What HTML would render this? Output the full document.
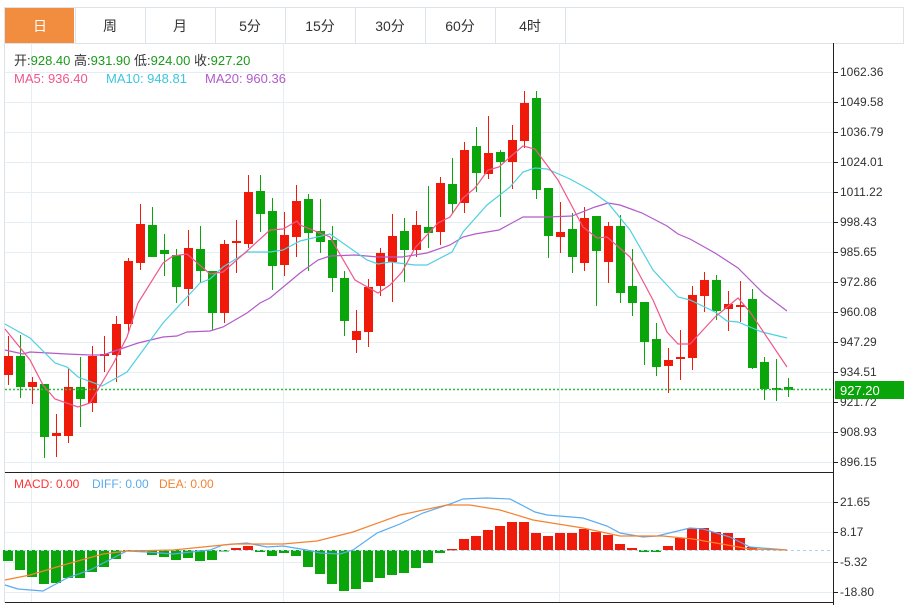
<!DOCTYPE html>
<html><head><meta charset="utf-8">
<style>
html,body{margin:0;padding:0;background:#fff;}
body{width:904px;height:605px;overflow:hidden;font-family:"Liberation Sans","Noto Sans CJK SC",sans-serif;}
svg{display:block}
</style></head>
<body>
<svg id="s" width="904" height="605" xmlns="http://www.w3.org/2000/svg" font-family="Liberation Sans, Noto Sans CJK SC, sans-serif">
</svg>
<script>
const S=document.getElementById('s');let h='';
h+='<rect x="4.5" y="7.5" width="899" height="36" fill="#fff" stroke="#dde3e8"/>';
const tabs=['日','周','月','5分','15分','30分','60分','4时'];
tabs.forEach((t,i)=>{const x=5+i*70;
 if(i==0)h+='<rect x="5" y="8" width="69" height="35" fill="#f28c3f"/>';
 h+='<line x1="'+(x+70.5)+'" y1="8" x2="'+(x+70.5)+'" y2="43" stroke="#dde3e8"/>';
 h+='<text x="'+(x+35)+'" y="31" font-size="14" text-anchor="middle" fill="'+(i==0?'#fff':'#333')+'">'+t+'</text>';});
h+='<line x1="4.5" y1="43" x2="4.5" y2="603" stroke="#dde3e8"/>';
for(let k=0;k<14;k++){const y=72+k*30+0.5;h+='<line x1="5" y1="'+y+'" x2="833" y2="'+y+'" stroke="#e6edf3"/>';}
[31,283,559].forEach(x=>{h+='<line x1="'+(x+.5)+'" y1="43" x2="'+(x+.5)+'" y2="603" stroke="#e6edf3"/>';});
[502,532,562,592].forEach(y=>{h+='<line x1="5" y1="'+(y+.5)+'" x2="833" y2="'+(y+.5)+'" stroke="#e6edf3"/>';});
h+='<line x1="5" y1="472.5" x2="833" y2="472.5" stroke="#222"/>';
h+='<line x1="5" y1="602.5" x2="833" y2="602.5" stroke="#222"/>';
h+='<line x1="833.5" y1="43" x2="833.5" y2="605" stroke="#222"/>';
const pl=['1062.36','1049.58','1036.79','1024.01','1011.22','998.43','985.65','972.86','960.08','947.29','934.51','921.72','908.93','896.15'];
pl.forEach((t,k)=>{const y=72+k*30;h+='<line x1="833" y1="'+(y+.5)+'" x2="838" y2="'+(y+.5)+'" stroke="#222"/><text x="840" y="'+(y+4)+'" font-size="12" fill="#333">'+t+'</text>';});
[['21.65',502],['8.17',532],['-5.32',562],['-18.80',592]].forEach(a=>{h+='<line x1="833" y1="'+(a[1]+.5)+'" x2="838" y2="'+(a[1]+.5)+'" stroke="#222"/><text x="840" y="'+(a[1]+4)+'" font-size="12" fill="#333">'+a[0]+'</text>';});
h+='<text x="14" y="65" font-size="13" fill="#333">开:<tspan fill="#1a9a1a">928.40</tspan>  高:<tspan fill="#1a9a1a">931.90</tspan>  低:<tspan fill="#1a9a1a">924.00</tspan>  收:<tspan fill="#1a9a1a">927.20</tspan></text>';
h+='<text x="14" y="83" font-size="13" fill="#f0568a">MA5: 936.40</text><text x="106" y="83" font-size="13" fill="#3cc6dd">MA10: 948.81</text><text x="205" y="83" font-size="13" fill="#b25bc9">MA20: 960.36</text>';
h+='<text x="14" y="488" font-size="12" fill="#f33">MACD: 0.00</text><text x="92" y="488" font-size="12" fill="#5aabef">DIFF: 0.00</text><text x="159" y="488" font-size="12" fill="#f58231">DEA: 0.00</text>';
const C=[[356,375,336,385,'r'],[356,387,335,398,'g'],[382,387,377,404,'r'],[384,437,384,458,'g'],[433,436,414,457,'r'],[387,436,368,443,'r'],[387,399,357,427,'g'],[356,403,346,412,'r'],[354,356,336,372,'r'],[324,355,316,382,'r'],
[261,324,258,333,'r'],[224,263,204,270,'r'],[225,257,207,257,'g'],[250,254,234,276,'g'],[255,287,249,303,'g'],[248,289,230,306,'r'],[249,271,226,283,'g'],[271,313,271,330,'g'],[244,313,240,323,'r'],[241,243,220,273,'r'],
[192,244,175,248,'r'],[191,214,175,232,'g'],[211,266,198,290,'g'],[235,265,212,276,'r'],[201,237,185,257,'r'],[199,233,194,271,'g'],[231,242,199,253,'g'],[240,278,226,292,'g'],[278,321,271,336,'g'],[331,340,310,353,'r'],
[287,332,279,347,'r'],[253,286,248,296,'r'],[236,262,214,302,'r'],[231,250,218,282,'g'],[225,250,211,257,'r'],[227,233,186,248,'g'],[183,232,177,245,'r'],[184,204,158,213,'g'],[150,203,142,213,'r'],[146,173,127,192,'g'],
[153,174,116,179,'r'],[152,162,150,217,'g'],[140,162,125,189,'r'],[103,141,91,148,'r'],[98,190,91,199,'g'],[188,236,188,258,'g'],[232,237,202,253,'r'],[229,257,213,273,'g'],[218,263,207,271,'r'],[216,251,216,306,'g'],
[226,262,222,283,'r'],[226,293,215,303,'g'],[286,303,249,316,'g'],[302,342,302,365,'g'],[339,367,323,376,'g'],[360,366,348,393,'r'],[357,359,330,380,'r'],[295,358,286,370,'r'],[280,296,272,312,'r'],[280,311,275,320,'g'],
[304,309,291,331,'r'],[305,306,281,322,'r'],[299,368,289,369,'g'],[362,389,357,400,'g'],[388,390,359,401,'g'],[387,390,378,397,'g']];
C.forEach((c,i)=>{const x=8+12*i;const col=c[4]=='r'?'#f01a0a':'#0aa50a';
 h+='<line x1="'+(x+.5)+'" y1="'+c[2]+'" x2="'+(x+.5)+'" y2="'+c[3]+'" stroke="'+col+'" stroke-width="1"/>';
 h+='<rect x="'+(x-4)+'" y="'+c[0]+'" width="9" height="'+Math.max(2,c[1]-c[0])+'" fill="'+col+'"/>';});
h+='<line x1="5" y1="389.5" x2="833" y2="389.5" stroke="#2fc03f" stroke-width="1.5" stroke-dasharray="2,2"/>';
h+='<rect x="835" y="381" width="69" height="18" fill="#0aa50a"/><text x="840" y="395" font-size="13" fill="#fff">927.20</text>';
function pl_(pts,col){return '<polyline fill="none" stroke="'+col+'" stroke-width="1.2" points="'+pts.map(p=>p.join(',')).join(' ')+'"/>';}
h+=pl_([[5,350],[23,354],[30,352],[67,354],[90,355],[103,355],[138,343],[163,337],[177,336],[187,332],[210,331],[223,327],[247,313],[260,303],[270,298],[300,273],[318,260],[330,256],[355,255],[378,257],[402,257],[427,253],[450,245],[463,237],[475,234],[499,230],[523,217],[547,217],[572,216],[595,207],[608,203],[620,205],[642,213],[667,226],[678,234],[690,239],[715,253],[738,268],[750,280],[763,293],[787,311]],'#b25bc9');
h+=pl_([[5,324],[30,338],[55,363],[67,367],[78,377],[102,386],[127,372],[163,323],[200,283],[210,279],[223,267],[247,252],[270,252],[283,250],[300,241],[330,234],[367,260],[378,264],[390,262],[415,265],[427,265],[452,252],[463,232],[487,205],[510,187],[523,172],[535,168],[547,169],[570,179],[590,190],[608,203],[630,230],[653,270],[678,297],[690,300],[715,312],[727,321],[738,322],[762,332],[787,338]],'#4fd0e0');
h+=pl_([[5,329],[30,360],[43,385],[55,399],[78,407],[90,403],[113,364],[127,337],[138,303],[163,263],[173,256],[187,254],[210,274],[223,272],[247,251],[270,230],[283,229],[297,221],[300,225],[330,237],[355,280],[378,293],[390,285],[402,272],[415,248],[438,223],[450,217],[463,198],[475,188],[488,170],[499,167],[510,157],[523,146],[535,149],[558,180],[583,227],[597,238],[607,237],[630,257],[653,300],[667,332],[678,344],[690,344],[715,317],[738,298],[750,312],[787,367]],'#f0568a');
const M=[561,570,577,584,583,578,578,572,567,559,551,551,555,557,560,558,561,560,551,548,546,552,556,553,556,567,574,584,591,589,582,578,575,573,568,563,553,549,539,536,530,526,522,522,533,536,533,533,529,532,535,544,548,552,552,546,538,528,528,532,533,538,547,550,550,550];
M.forEach((y,i)=>{if(y==550)return;const x=8+12*i;const up=y<550;const col=up?'#f01a0a':'#0aa50a';
 const t=Math.min(y,550),b=Math.max(y,550);h+='<rect x="'+(x-5)+'" y="'+t+'" width="10" height="'+Math.max(1.5,b-t)+'" fill="'+col+'"/>';});
h+='<line x1="5" y1="550.5" x2="833" y2="550.5" stroke="#a8d4ee" stroke-dasharray="3,3"/>';
h+=pl_([[5,585],[18,589],[43,591],[67,578],[90,570],[115,557],[127,551],[147,552],[173,554],[210,550],[223,545],[247,543],[267,547],[283,546],[307,550],[320,553],[340,554],[353,550],[377,533],[400,524],[423,513],[450,504],[463,499],[487,498],[510,499],[535,512],[547,515],[583,518],[607,526],[620,533],[643,537],[657,536],[690,528],[703,529],[730,537],[750,547],[787,550]],'#5aabef');
h+=pl_([[5,580],[30,575],[67,564],[103,554],[127,551],[173,550],[233,544],[283,544],[317,541],[353,532],[400,515],[447,505],[470,505],[500,510],[533,520],[583,528],[620,536],[663,536],[693,539],[750,549],[787,550]],'#f58231');
S.innerHTML=h;
</script>
</body></html>
